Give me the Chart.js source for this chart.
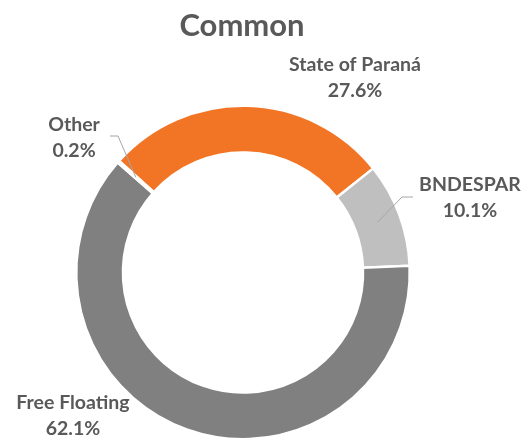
<!DOCTYPE html>
<html>
<head>
<meta charset="utf-8">
<script src="https://cdn.jsdelivr.net/npm/chart.js@4/dist/chart.umd.min.js"></script>
<style>
  html, body { margin: 0; padding: 0; background: #fff; }
  #wrap { width: 523px; height: 443px; }
</style>
</head>
<body>
<div id="wrap"><canvas id="chart"></canvas></div>
<script>
const labels = ['State of Paraná', 'BNDESPAR', 'Free Floating', 'Other'];
const shares = [27.6, 10.1, 62.1, 0.2];
const colors = ['#F27526', '#BFBFBF', '#808080', '#A5A5A5'];

// where each label block sits (centre x, first baseline y) and whether it gets a leader line
const labelSpots = [
    { x: 355, y: 71, leader: null },
    { x: 470, y: 191, leader: [[413, 197], [402, 197]] },
    { x: 73, y: 409, leader: null },
    { x: 74, y: 131, leader: [[110, 136], [118, 136]] },
];

const textColor = '#595959';
const font = 'Lato, "Open Sans", sans-serif';

const labelPlugin = {
    id: 'sliceLabels',
    afterDatasetsDraw(chart) {
        const ctx = chart.ctx;
        const arcs = chart.getDatasetMeta(0).data;
        ctx.save();

        // title
        ctx.fillStyle = textColor;
        ctx.font = `bold 31px ${font}`;
        ctx.textAlign = 'center';
        ctx.textBaseline = 'alphabetic';
        ctx.fillText('Common', 242, 36);

        arcs.forEach((arc, i) => {
            const spot = labelSpots[i];
            if (spot.leader) {
                const end = arc.tooltipPosition();
                ctx.strokeStyle = '#A6A6A6';
                ctx.lineWidth = 1;
                ctx.beginPath();
                ctx.moveTo(spot.leader[0][0], spot.leader[0][1]);
                ctx.lineTo(spot.leader[1][0], spot.leader[1][1]);
                ctx.lineTo(end.x, end.y);
                ctx.stroke();
            }
            ctx.fillStyle = textColor;
            ctx.font = `bold 19.5px ${font}`;
            ctx.textAlign = 'center';
            ctx.fillText(labels[i], spot.x, spot.y);
            ctx.fillText(shares[i].toFixed(1) + '%', spot.x, spot.y + 26);
        });
        ctx.restore();
    },
};

new Chart(document.getElementById('chart'), {
    type: 'doughnut',
    data: {
        labels: labels,
        datasets: [{
            data: shares,
            backgroundColor: colors,
            borderColor: '#FFFFFF',
            borderWidth: 2.5,
        }],
    },
    options: {
        responsive: true,
        maintainAspectRatio: false,
        animation: false,
        rotation: -48,
        cutout: '72%',
        layout: { padding: { top: 104, bottom: 2, left: 75, right: 112 } },
        plugins: {
            legend: { display: false },
            tooltip: { enabled: false },
        },
    },
    plugins: [labelPlugin],
});
</script>
</body>
</html>
